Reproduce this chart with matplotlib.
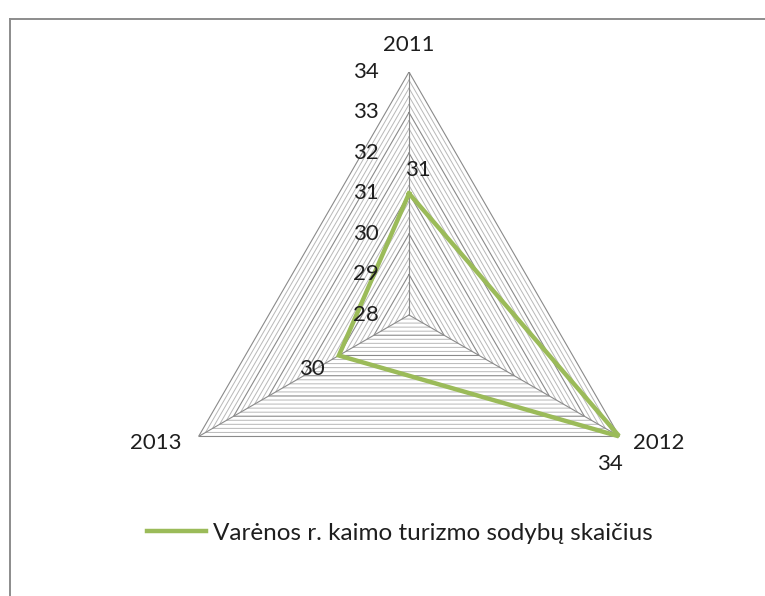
import numpy as np
import matplotlib
matplotlib.use('Agg')
import matplotlib.pyplot as plt
from matplotlib.lines import Line2D

plt.rcParams['font.family'] = ['Lato', 'DejaVu Sans']

years = ['2011', '2012', '2013']
values = [31, 34, 30]
series_name = 'Varėnos r. kaimo turizmo sodybų skaičius'
r_min, r_max = 28, 34
major_ticks = [28, 29, 30, 31, 32, 33, 34]
minor_step = 0.2

fig = plt.figure(figsize=(7.65, 5.96), dpi=100)

# chart border (only left and top visible in the crop)
fig.add_artist(Line2D([9.5 / 765, 9.5 / 765], [0, 1 - 18.5 / 596], color='#8c8c8c', lw=1.4))
fig.add_artist(Line2D([9.5 / 765, 1], [1 - 18.5 / 596, 1 - 18.5 / 596], color='#8c8c8c', lw=1.4))

ax = fig.add_axes([0.2170, 0.0638, 0.6353, 0.8154], projection='polar')
ax.set_theta_offset(np.pi / 2)
ax.set_theta_direction(-1)
ax.set_ylim(r_min, r_max)
ax.grid(False)
ax.set_xticks([])
ax.set_yticks([])
ax.spines['polar'].set_visible(False)
ax.patch.set_alpha(0)

angles = np.linspace(0, 2 * np.pi, len(years), endpoint=False)
closed = np.append(angles, angles[0])

# gridlines: dense minor triangles plus major ones
levels = np.round(np.arange(r_min + minor_step, r_max + 1e-9, minor_step), 2)
for lv in levels:
    major = abs(lv - round(lv)) < 1e-6
    ax.plot(closed, [lv] * len(closed), color='#8a8a8a' if major else '#b8b8b8',
            lw=0.8 if major else 0.7, zorder=1)

# spokes
for a in angles:
    ax.plot([a, a], [r_min, r_max], color='#8a8a8a', lw=0.8, zorder=1)

txt = '#1e1e1e'

# radial tick labels along the 2011 axis (drawn above the series line)
for v in major_ticks:
    ax.annotate(str(v), xy=(0, v), xytext=(-31, 0), textcoords='offset points',
                ha='center', va='center', fontsize=16, color=txt, zorder=5)

# category labels
cat_offsets = [(0, 19.5), (9.5, -5), (-12, -5)]
cat_align = [('center', 'center'), ('left', 'center'), ('right', 'center')]
for a, lab, off, (ha, va) in zip(angles, years, cat_offsets, cat_align):
    ax.annotate(lab, xy=(a, r_max), xytext=off, textcoords='offset points',
                ha=ha, va=va, fontsize=16, color=txt, annotation_clip=False, zorder=5)

# series
vals_closed = values + values[:1]
line, = ax.plot(closed, vals_closed, color='#9bbb59', lw=3.2, zorder=3,
                solid_joinstyle='miter', label=series_name)

# data labels
lab_offsets = [(6.5, 17), (-7, -20), (-19.5, -9.5)]
for a, v, off in zip(angles, values, lab_offsets):
    ax.annotate(str(v), xy=(a, v), xytext=off, textcoords='offset points',
                ha='center', va='center', fontsize=16, color=txt,
                annotation_clip=False, zorder=5)

fig.legend(handles=[line], labels=[series_name], loc='center',
           bbox_to_anchor=(400 / 765, 1 - 533 / 596), frameon=False,
           fontsize=17.5, handlelength=2.4, handletextpad=0.3,
           labelcolor=txt)

fig.savefig('out.png', dpi=100)
